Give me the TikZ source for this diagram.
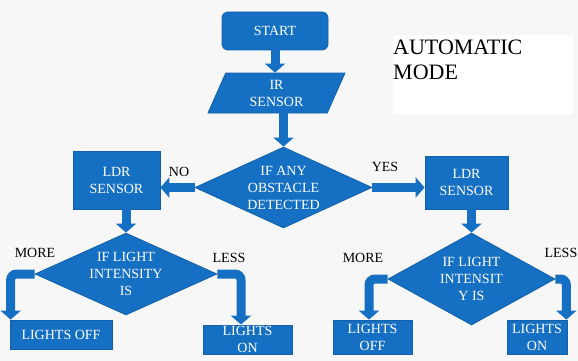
\documentclass[tikz,border=0pt]{standalone}
\usepackage{fontspec}
\setmainfont{Liberation Serif}
\usetikzlibrary{shapes.geometric,arrows.meta}
\definecolor{flowblue}{RGB}{21,112,196}
\definecolor{flowedge}{RGB}{18,96,170}
\definecolor{bggray}{RGB}{247,247,247}
\tikzset{
	block/.style={draw=flowedge, line width=0.8pt, fill=flowblue, text=white, inner sep=0pt, align=center, font=\fontsize{14}{17}\selectfont},
	decision/.style={block, diamond, aspect=2},
	flow/.style={draw=flowblue, line width=9pt, -{Triangle[width=20pt,length=9pt]}},
	answer/.style={inner sep=0pt, font=\fontsize{14}{17}\selectfont}
}

\begin{document}
\begin{tikzpicture}[x=1pt,y=-1pt]
	\fill[bggray] (0,0) rectangle (578,361);
	\useasboundingbox (0,0) rectangle (578,361);
	\fill[white] (393,35) rectangle (573,114);
	\node[anchor=north west, inner sep=0pt, align=left, font=\fontsize{22}{25}\selectfont] (mode) at (393,40) {AUTOMATIC\\MODE};

	\node[block, rounded corners=6pt, minimum width=106pt, minimum height=38pt] (start) at (275,31) {START};
	\node[block, trapezium, trapezium left angle=56, trapezium right angle=124, trapezium stretches body, minimum width=137pt, minimum height=40pt] (ir) at (276.5,93) {IR\\SENSOR};
	\node[decision, minimum width=177pt, minimum height=81pt] (obst) at (283.5,187.5) {IF ANY\\OBSTACLE\\DETECTED};

	\node[block, minimum width=87pt, minimum height=58pt] (ldrL) at (116.5,180) {LDR\\SENSOR};
	\node[block, minimum width=83pt, minimum height=53pt] (ldrR) at (466.5,182.5) {LDR\\SENSOR};

	\node[decision, minimum width=182pt, minimum height=82pt] (lightL) at (126,274) {IF LIGHT\\INTENSITY\\IS};
	\node[decision, minimum width=167pt, minimum height=92pt] (lightR) at (471.5,279) {IF LIGHT\\INTENSIT\\Y IS};

	\node[block, minimum width=102pt, minimum height=29pt] (offL) at (61,334.5) {LIGHTS OFF};
	\node[block, minimum width=89pt, minimum height=29pt] (onL) at (247.5,339.5) {LIGHTS\\ON};
	\node[block, minimum width=79pt, minimum height=34pt] (offR) at (372.5,337) {LIGHTS\\OFF};
	\node[block, minimum width=60pt, minimum height=34pt] (onR) at (537,337) {LIGHTS\\ON};

	\draw[flow] (start.south) -- (start.south |- ir.north);
	\draw[flow] (ir.south -| obst.north) -- (obst.north);
	\draw[flow] (obst.west) -- (obst.west -| ldrL.east);
	\draw[flow] (obst.east) -- (obst.east -| ldrR.west);
	\draw[flow] (ldrL.south -| lightL.north) -- (lightL.north);
	\draw[flow] (ldrR.south -| lightR.north) -- (lightR.north);
	\draw[flow, rounded corners=6pt] (lightL.west) -| ([xshift=1pt]offL.north west);
	\draw[flow, rounded corners=6pt] (lightL.east) -| ([xshift=-6.5pt]onL.north);
	\draw[flow, rounded corners=6pt] (lightR.west) -| ([xshift=-3.5pt]offR.north);
	\draw[flow, rounded corners=6pt] (lightR.east) -| ([xshift=-1pt]onR.north east);

	\node[answer] (no) at (179,172) {NO};
	\node[answer] (yes) at (385,167) {YES};
	\node[answer] (moreL) at (35,253) {MORE};
	\node[answer] (lessL) at (229,258) {LESS};
	\node[answer] (moreR) at (363,258) {MORE};
	\node[answer, anchor=east] (lessR) at (577.5,253) {LESS};
\end{tikzpicture}
\end{document}
